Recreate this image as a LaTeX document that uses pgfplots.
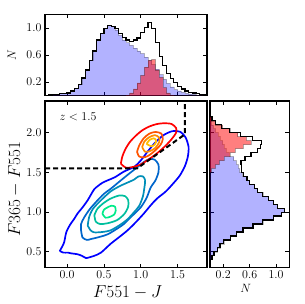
\documentclass[border=0pt]{standalone}
\usepackage{pgfplots}
\usepackage{pgfplotstable}
\pgfplotsset{compat=1.18}
\definecolor{w1}{rgb}{0,0,1}
\definecolor{w2}{rgb}{0,0.4,0.8}
\definecolor{w3}{rgb}{0,0.56,0.72}
\definecolor{w4}{rgb}{0,0.75,0.62}
\definecolor{w5}{rgb}{0,0.92,0.54}
\definecolor{a1}{rgb}{1,0,0}
\definecolor{a2}{rgb}{1,0.33,0}
\definecolor{a3}{rgb}{1,0.55,0}
\definecolor{a4}{rgb}{1,0.75,0}

\pgfplotstableread{
x T B R
-0.30 0.00 0.00 0
-0.25 0.01 0.01 0
-0.20 0.02 0.02 0
-0.15 0.02 0.02 0
-0.10 0.03 0.03 0
-0.05 0.03 0.03 0
0.00 0.04 0.04 0
0.05 0.07 0.07 0
0.10 0.11 0.11 0
0.15 0.17 0.17 0
0.20 0.26 0.26 0
0.25 0.38 0.38 0
0.30 0.52 0.52 0
0.35 0.66 0.66 0
0.40 0.82 0.82 0
0.45 0.92 0.92 0
0.50 0.99 0.99 0
0.55 1.04 1.04 0
0.60 1.02 1.02 0
0.65 0.99 0.97 0
0.70 0.92 0.89 0
0.75 0.86 0.82 0
0.80 0.82 0.78 0.01
0.85 0.80 0.74 0.04
0.90 0.82 0.70 0.10
0.95 0.85 0.66 0.19
1.00 0.93 0.62 0.30
1.05 1.00 0.57 0.42
1.10 1.08 0.52 0.52
1.15 0.99 0.46 0.53
1.20 0.78 0.39 0.38
1.25 0.58 0.31 0.27
1.30 0.44 0.24 0.12
1.35 0.33 0.18 0.04
1.40 0.25 0.13 0.01
1.45 0.19 0.09 0
1.50 0.14 0.07 0
1.55 0.10 0.05 0
1.60 0.07 0.035 0
1.65 0.05 0.025 0
1.70 0.04 0.02 0
1.75 0.03 0.01 0
1.80 0.02 0.005 0
1.85 0.01 0.0 0
1.90 0 0 0
}\tophist

\pgfplotstableread{
y T B R
0.30 0 0 0
0.35 0.01 0.01 0
0.40 0.03 0.03 0
0.45 0.06 0.06 0
0.50 0.11 0.11 0
0.55 0.15 0.15 0
0.60 0.21 0.21 0
0.65 0.31 0.31 0
0.70 0.40 0.40 0
0.75 0.50 0.50 0
0.80 0.65 0.65 0
0.85 0.80 0.80 0
0.90 0.96 0.96 0
0.95 1.08 1.08 0
1.00 1.13 1.13 0
1.05 1.02 1.02 0
1.10 0.96 0.96 0
1.15 0.88 0.88 0
1.20 0.80 0.80 0
1.25 0.72 0.72 0
1.30 0.67 0.67 0
1.35 0.60 0.60 0
1.40 0.56 0.55 0
1.45 0.51 0.49 0
1.50 0.48 0.45 0.02
1.55 0.48 0.43 0.08
1.60 0.47 0.40 0.14
1.65 0.53 0.36 0.21
1.70 0.62 0.29 0.30
1.75 0.72 0.24 0.38
1.80 0.76 0.21 0.50
1.85 0.78 0.19 0.62
1.90 0.64 0.15 0.55
1.95 0.46 0.12 0.42
2.00 0.30 0.08 0.30
2.05 0.17 0.05 0.19
2.10 0.08 0.02 0.08
2.15 0.03 0.01 0.02
2.20 0.01 0 0
2.25 0.005 0 0
2.30 0 0 0
}\righthist

\pgfplotsset{
  panel/.style={
    scale only axis, anchor=south west,
    axis line style={line width=1.1pt},
    every tick/.style={black, line width=0.7pt},
    major tick length=4pt, tick align=inside,
    xtick pos=both, ytick pos=both,
    xticklabel pos=lower, yticklabel pos=left,
    tick label style={font=\fontsize{12}{12}\selectfont},
    label style={font=\fontsize{17}{17}\selectfont},
    xticklabel style={/pgf/number format/fixed, /pgf/number format/fixed zerofill, /pgf/number format/precision=1},
    yticklabel style={/pgf/number format/fixed, /pgf/number format/fixed zerofill, /pgf/number format/precision=1},
    clip=true,
  },
  cont/.style={line width=1.7pt, line join=round, smooth, tension=0.45, mark=none},
}

\begin{document}
\begin{tikzpicture}
\path[use as bounding box] (0,0) rectangle (304pt,304pt);

% main axis
\begin{axis}[panel, at={(45pt,36.3pt)}, width=162pt, height=166.7pt,
  xmin=-0.3, xmax=1.9, ymin=0.3, ymax=2.4,
  xtick={0,0.5,1,1.5}, ytick={0.5,1,1.5,2},
  xlabel={$F551-J$}, ylabel={$F365-F551$},
  xlabel style={at={(axis description cs:0.51,-0.15)}, anchor=center},
  ylabel style={at={(axis description cs:-0.185,0.47)}, anchor=center, rotate=0},
]
\addplot[cont, w1] coordinates {
(-0.10,0.51) (-0.07,0.56) (-0.04,0.62) (-0.01,0.75) (0.04,0.84) (0.10,0.92) (0.14,0.98)
(0.21,1.06) (0.28,1.15) (0.33,1.23) (0.37,1.29) (0.42,1.33) (0.48,1.37) (0.55,1.40)
(0.65,1.44) (0.77,1.51) (0.91,1.57) (1.00,1.65) (1.10,1.77) (1.20,1.88) (1.31,1.97)
(1.43,2.02) (1.54,2.01) (1.61,1.94) (1.65,1.82) (1.64,1.70) (1.60,1.58) (1.53,1.46)
(1.44,1.36) (1.34,1.26) (1.22,1.17) (1.13,1.08) (1.04,0.98) (0.93,0.87) (0.82,0.77)
(0.70,0.68) (0.59,0.60) (0.46,0.49) (0.37,0.45) (0.30,0.43) (0.26,0.42) (0.20,0.45)
(0.14,0.47) (0.06,0.48) (0.01,0.49) (-0.05,0.49) (-0.10,0.51)
};
\addplot[cont, w2] coordinates {
(0.19,0.77) (0.21,0.68) (0.27,0.65) (0.32,0.66) (0.45,0.69) (0.55,0.72) (0.66,0.78)
(0.77,0.85) (0.88,0.95) (1.00,1.06) (1.08,1.18) (1.135,1.31) (1.20,1.40) (1.24,1.50)
(1.24,1.60) (1.19,1.66) (1.12,1.67) (1.04,1.63) (0.96,1.57) (0.85,1.49) (0.73,1.40)
(0.60,1.30) (0.50,1.23) (0.41,1.145) (0.31,1.04) (0.23,0.93) (0.19,0.85) (0.19,0.77)
};
\addplot[cont, w3] coordinates {
(0.28,0.83) (0.32,0.77) (0.37,0.745) (0.48,0.75) (0.59,0.77) (0.72,0.84) (0.82,0.91)
(0.91,1.00) (0.98,1.08) (1.03,1.20) (1.05,1.31) (1.06,1.40) (1.03,1.45) (0.97,1.45)
(0.91,1.41) (0.84,1.38) (0.72,1.33) (0.59,1.26) (0.45,1.14) (0.35,1.04) (0.30,0.94)
(0.28,0.83)
};
\addplot[cont, w4] coordinates {
(0.37,0.96) (0.39,0.88) (0.45,0.85) (0.55,0.86) (0.68,0.90) (0.78,0.98) (0.83,1.07)
(0.83,1.15) (0.79,1.20) (0.71,1.21) (0.59,1.17) (0.49,1.11) (0.41,1.04) (0.37,0.96)
};
\addplot[cont, w5] coordinates {
(0.48,0.98) (0.52,0.93) (0.58,0.94) (0.64,0.97) (0.66,1.02) (0.65,1.07) (0.60,1.08)
(0.55,1.06) (0.50,1.03) (0.48,0.98)
};
\addplot[cont, a1] coordinates {
(0.73,1.61) (0.75,1.70) (0.79,1.79) (0.85,1.88) (0.93,1.96) (1.02,2.03) (1.12,2.08)
(1.22,2.11) (1.32,2.12) (1.42,2.11) (1.48,2.06) (1.48,2.00) (1.42,1.92) (1.33,1.83)
(1.22,1.74) (1.10,1.66) (1.00,1.60) (0.90,1.57) (0.80,1.56) (0.73,1.61)
};
\addplot[cont, a2] coordinates {
(0.95,1.76) (0.98,1.84) (1.04,1.93) (1.12,1.99) (1.20,2.01) (1.28,1.99) (1.30,1.92)
(1.27,1.85) (1.20,1.78) (1.12,1.72) (1.05,1.69) (0.98,1.70) (0.95,1.76)
};
\addplot[cont, a3] coordinates {
(1.02,1.82) (1.05,1.89) (1.11,1.94) (1.19,1.97) (1.25,1.94) (1.25,1.88) (1.20,1.81)
(1.13,1.77) (1.06,1.76) (1.02,1.82)
};
\addplot[cont, a4] coordinates {
(1.08,1.86) (1.12,1.91) (1.18,1.93) (1.21,1.90) (1.19,1.85) (1.14,1.83) (1.08,1.86)
};
\addplot[black, line width=2pt, dash pattern=on 5pt off 3pt, mark=none] coordinates {
(-0.3,1.55) (0.95,1.55) (1.6,1.98) (1.6,2.4)
};
\node[anchor=west, font=\fontsize{12}{12}\selectfont] at (axis cs:-0.15,2.2) {$z<1.5$};
\end{axis}

% top histogram
\begin{axis}[panel, at={(45pt,208.3pt)}, width=162pt, height=81.4pt,
  xmin=-0.3, xmax=1.9, ymin=0, ymax=1.2,
  xtick={0,0.5,1,1.5}, xticklabels={},
  ytick={0.2,0.6,1.0},
  ylabel={$N$},
  ylabel style={at={(axis description cs:-0.205,0.5)}, anchor=center, font=\fontsize{13}{13}\selectfont},
]
\addplot[const plot mark left, fill=blue, fill opacity=0.3, draw=black, draw opacity=0.25, line width=0.6pt] table[x=x,y=B]{\tophist};
\addplot[const plot mark left, fill=red, fill opacity=0.5, draw=black, draw opacity=0.3, line width=0.6pt] table[x=x,y=R]{\tophist};
\addplot[const plot mark left, black, line width=1.2pt] table[x=x,y=T]{\tophist};
\end{axis}

% right histogram
\begin{axis}[panel, at={(210pt,36.3pt)}, width=79.3pt, height=166.7pt,
  xmin=0, xmax=1.2, ymin=0.3, ymax=2.4,
  xtick={0.2,0.6,1.0},
  ytick={0.5,1,1.5,2}, yticklabels={},
  xlabel={$N$},
  xlabel style={at={(axis description cs:0.45,-0.125)}, anchor=center, font=\fontsize{13}{13}\selectfont},
]
\addplot[const plot mark right, fill=blue, fill opacity=0.3, draw=black, draw opacity=0.25, line width=0.6pt] table[x=B,y=y]{\righthist};
\addplot[const plot mark right, fill=red, fill opacity=0.5, draw=black, draw opacity=0.3, line width=0.6pt] table[x=R,y=y]{\righthist};
\addplot[const plot mark right, black, line width=1.2pt] table[x=T,y=y]{\righthist};
\end{axis}
\end{tikzpicture}
\end{document}
